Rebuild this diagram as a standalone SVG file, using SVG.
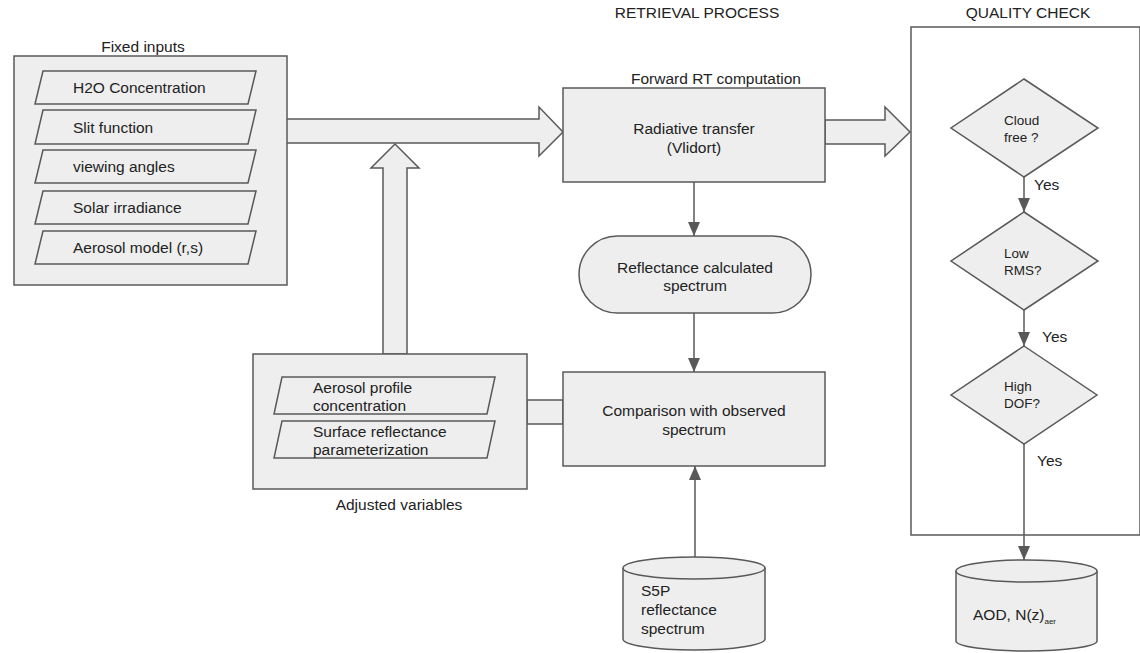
<svg xmlns="http://www.w3.org/2000/svg" width="1140" height="653" viewBox="0 0 1140 653">
<defs>
<marker id="ah" viewBox="0 0 14 12" refX="14" refY="6" markerWidth="14" markerHeight="12" markerUnits="userSpaceOnUse" orient="auto">
<path d="M0,0 L14,6 L0,12 Z" fill="#595959"/>
</marker>
<style>
.shape{fill:#eeeeee;stroke:#595959;stroke-width:1.5}
.frame{fill:none;stroke:#595959;stroke-width:1.5}
.t{font-family:"Liberation Sans",Arial,sans-serif;font-size:15.5px;fill:#222}
.s{font-family:"Liberation Sans",Arial,sans-serif;font-size:13.5px;fill:#222}
.c{text-anchor:middle}
.line{stroke:#595959;stroke-width:1.5;fill:none}
</style>
</defs>
<rect width="1140" height="653" fill="#ffffff"/>

<text class="t c" x="697" y="18">RETRIEVAL PROCESS</text>
<text class="t c" x="1028" y="18">QUALITY CHECK</text>

<g id="quality-check">
<rect class="frame" x="911" y="27" width="229" height="508"/>
</g>

<g id="connectors">
<polygon class="shape" points="286,119 539,119 539,107 563,132 539,156 539,143 286,143"/>
<polygon class="shape" points="383,354 383,168 371,168 395,144 419,168 407,168 407,354"/>
<polygon class="shape" points="825,120 885,120 885,107 910,132 885,156 885,144 825,144"/>
<rect class="shape" x="527" y="400" width="36" height="24"/>
<line class="line" x1="694" y1="182" x2="694" y2="236" marker-end="url(#ah)"/>
<line class="line" x1="694" y1="313" x2="694" y2="372" marker-end="url(#ah)"/>
<line class="line" x1="695" y1="557" x2="695" y2="466" marker-end="url(#ah)"/>
<line class="line" x1="1024" y1="177" x2="1024" y2="212" marker-end="url(#ah)"/>
<line class="line" x1="1024" y1="310" x2="1024" y2="346" marker-end="url(#ah)"/>
<line class="line" x1="1024" y1="444" x2="1024" y2="560" marker-end="url(#ah)"/>
<text class="t" x="1034" y="190">Yes</text>
<text class="t" x="1042" y="342">Yes</text>
<text class="t" x="1037" y="466">Yes</text>
</g>

<g id="fixed-inputs">
<text class="t c" x="143" y="52">Fixed inputs</text>
<rect class="shape" x="14" y="56" width="273" height="229"/>
<polygon class="shape" points="43,71 256,71 248,104 35,104"/>
<text class="t" x="73" y="93">H2O Concentration</text>
<polygon class="shape" points="43,110 256,110 248,144 35,144"/>
<text class="t" x="73" y="133">Slit function</text>
<polygon class="shape" points="43,150 256,150 248,183 35,183"/>
<text class="t" x="73" y="172">viewing angles</text>
<polygon class="shape" points="43,191 256,191 248,224 35,224"/>
<text class="t" x="73" y="213">Solar irradiance</text>
<polygon class="shape" points="43,231 256,231 248,264 35,264"/>
<text class="t" x="73" y="253">Aerosol model (r,s)</text>
</g>

<g id="adjusted-variables">
<rect class="shape" x="253" y="354" width="274" height="135"/>
<polygon class="shape" points="282,377 495,377 487,414 274,414"/>
<text class="t" x="313" y="393">Aerosol profile</text>
<text class="t" x="313" y="411">concentration</text>
<polygon class="shape" points="282,421 495,421 487,458 274,458"/>
<text class="t" x="313" y="437">Surface reflectance</text>
<text class="t" x="313" y="455">parameterization</text>
<text class="t c" x="399" y="510">Adjusted variables</text>
</g>

<g id="radiative-transfer">
<text class="t c" x="716" y="84">Forward RT computation</text>
<rect class="shape" x="563" y="88" width="262" height="94"/>
<text class="t c" x="694" y="134">Radiative transfer</text>
<text class="t c" x="694" y="153">(Vlidort)</text>
</g>

<g id="reflectance-calculated">
<rect class="shape" x="579" y="236" width="232" height="77" rx="38.5" ry="38.5"/>
<text class="t c" x="695" y="273">Reflectance calculated</text>
<text class="t c" x="695" y="291">spectrum</text>
</g>

<g id="comparison">
<rect class="shape" x="563" y="372" width="262" height="94"/>
<text class="t c" x="694" y="416">Comparison with observed</text>
<text class="t c" x="694" y="435">spectrum</text>
</g>

<g id="s5p">
<path class="shape" d="M623,568 L623,639 A71,11 0 0 0 765,639 L765,568 A71,11 0 0 0 623,568 Z"/>
<path class="shape" d="M623,568 A71,11 0 0 0 765,568"/>
<text class="t" x="641" y="596">S5P</text>
<text class="t" x="641" y="615">reflectance</text>
<text class="t" x="641" y="634">spectrum</text>
</g>

<g id="cloud-free">
<polygon class="shape" points="1024,79 1098,128 1024,177 951,128"/>
<text class="s" x="1004" y="125">Cloud</text>
<text class="s" x="1004" y="142">free ?</text>
</g>

<g id="low-rms">
<polygon class="shape" points="1024,212 1098,261 1024,310 951,261"/>
<text class="s" x="1004" y="258">Low</text>
<text class="s" x="1004" y="275">RMS?</text>
</g>

<g id="high-dof">
<polygon class="shape" points="1024,346 1097,395 1024,444 951,395"/>
<text class="s" x="1004" y="391">High</text>
<text class="s" x="1004" y="408">DOF?</text>
</g>

<g id="aod">
<path class="shape" d="M956,571 L956,641 A70.5,10 0 0 0 1097,641 L1097,571 A70.5,11 0 0 0 956,571 Z"/>
<path class="shape" d="M956,571 A70.5,11 0 0 0 1097,571"/>
<text class="t" x="973" y="620">AOD, N(z)<tspan font-size="8" dy="4">aer</tspan></text>
</g>
</svg>
